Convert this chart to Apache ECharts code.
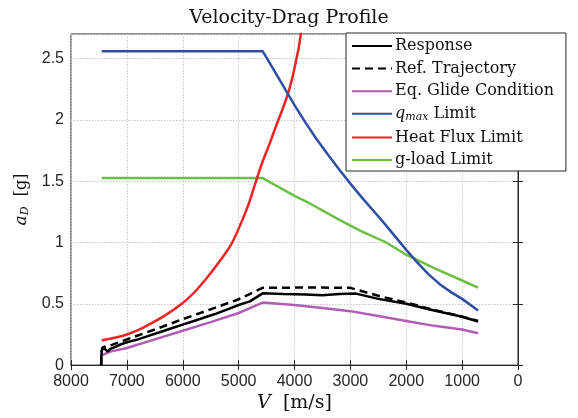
<!DOCTYPE html>
<html><head><meta charset="utf-8">
<script src="https://cdn.jsdelivr.net/npm/echarts@6/dist/echarts.min.js"></script>
<style>html,body{margin:0;padding:0;background:#fff}#c{width:578px;height:418px}</style>
</head><body><div id="c"></div>
<script>
// ---- data (V in m/s, drag acceleration in g) ----
const respV = [7460, 7458, 7450, 7420, 7380, 7340, 7300, 7200, 7100, 7000, 6800, 6600, 6400, 6200, 6000, 5800, 5600, 5400, 5200, 5000, 4800, 4570, 4200, 3800, 3500, 3200, 2900, 2500, 2000, 1600, 1300, 1000, 714];
const respA = [0.0, 0.06, 0.12, 0.145, 0.125, 0.11, 0.13, 0.15, 0.17, 0.186, 0.21, 0.24, 0.27, 0.30, 0.33, 0.36, 0.39, 0.42, 0.455, 0.49, 0.52, 0.585, 0.58, 0.575, 0.57, 0.58, 0.583, 0.54, 0.50, 0.456, 0.425, 0.394, 0.356];
const refV = [7460, 7455, 7440, 7400, 7300, 7000, 6500, 6000, 5500, 5000, 4570, 4000, 3500, 3000, 2500, 2000, 1500, 1000, 714];
const refA = [0.0, 0.08, 0.14, 0.15, 0.16, 0.21, 0.29, 0.375, 0.455, 0.537, 0.63, 0.632, 0.632, 0.63, 0.565, 0.51, 0.45, 0.395, 0.36];
const eqV = [7450, 7300, 7000, 6500, 6000, 5500, 5000, 4570, 4000, 3500, 3000, 2500, 2000, 1500, 1000, 714];
const eqA = [0.08, 0.11, 0.14, 0.21, 0.28, 0.35, 0.425, 0.51, 0.49, 0.465, 0.44, 0.40, 0.36, 0.32, 0.29, 0.26];
const qV = [7450, 4570, 4400, 4200, 4000, 3800, 3600, 3400, 3200, 3000, 2800, 2600, 2400, 2200, 2000, 1800, 1600, 1400, 1200, 1000, 714];
const qA = [2.56, 2.56, 2.43, 2.275, 2.12, 1.975, 1.84, 1.715, 1.595, 1.48, 1.37, 1.265, 1.16, 1.05, 0.94, 0.835, 0.74, 0.66, 0.595, 0.54, 0.445];
const hV = [7450, 7200, 7000, 6800, 6589, 6300, 6018, 5800, 5570, 5350, 5125, 4900, 4800, 4696, 4570, 4450, 4330, 4220, 4119, 4040, 3964, 3920, 3880];
const hA = [0.20, 0.225, 0.25, 0.285, 0.335, 0.41, 0.5, 0.59, 0.71, 0.84, 0.99, 1.22, 1.34, 1.49, 1.66, 1.80, 1.95, 2.08, 2.21, 2.34, 2.5, 2.6, 2.72];
const gV = [7450, 4570, 4000, 3732, 3196, 2800, 2362, 2000, 1500, 1000, 714];
const gA = [1.525, 1.525, 1.38, 1.32, 1.185, 1.09, 1.0, 0.9, 0.79, 0.69, 0.632];
const xTicks = [0, 1000, 2000, 3000, 4000, 5000, 6000, 7000, 8000];
const yTicks = [0, 0.5, 1, 1.5, 2, 2.5];
const names = ['Response', 'Ref. Trajectory', 'Eq. Glide Condition', 'qmax Limit', 'Heat Flux Limit', 'g-load Limit'];

const zip = (a, b) => a.map((v, i) => [v, b[i]]);
const serif = 'DejaVu Serif';
const sans = 'Liberation Sans';
function mk(name, V, A, color, type, smooth) {
  return {
    name, type: 'line', data: zip(V, A), symbol: 'none', clip: true,
    smooth: smooth || false,
    lineStyle: { color, width: 2.5, type: type || 'solid' },
    itemStyle: { color }, z: 3
  };
}
const grid = { left: 71, right: 60, top: 34, bottom: 50, show: true, borderColor: '#262626', borderWidth: 1 };
const split = { show: true, lineStyle: { color: '#c8c8c8', type: [1.5, 1.5], width: 1 } };
const chart = echarts.init(document.getElementById('c'));
chart.setOption({
  animation: false,
  title: { text: 'Velocity-Drag Profile', left: 'center', top: 4, textStyle: { fontFamily: serif, fontSize: 19, fontWeight: 'normal', color: '#111' } },
  grid,
  legend: {
    data: names, orient: 'vertical', left: 346, top: 33,
    padding: [5, 12, 3, 5], itemGap: 6.6, itemWidth: 40, itemHeight: 16,
    backgroundColor: '#fff', borderColor: '#262626', borderWidth: 1, borderRadius: 0,
    itemStyle: { opacity: 0, borderWidth: 0 },
    textStyle: { fontFamily: serif, fontSize: 16, color: '#111', padding: [0, 0, 0, -2],
      rich: { q: { fontFamily: serif, fontStyle: 'italic', fontSize: 16, color: '#111' }, s: { fontFamily: serif, fontStyle: 'italic', fontSize: 11, color: '#111', padding: [7, 0, 0, 0] }, t: { fontFamily: serif, fontSize: 16, color: '#111' } } },
    formatter: n => n === 'qmax Limit' ? '{q|q}{s|max}{t| Limit}' : n
  },
  xAxis: [{
    type: 'value', inverse: true, min: 0, max: 8000, interval: 1000,
    name: '{i|V}{r|  [m/s]}', nameLocation: 'middle', nameGap: 22,
    nameTextStyle: { rich: { i: { fontFamily: serif, fontStyle: 'italic', fontSize: 19, color: '#111' }, r: { fontFamily: serif, fontSize: 19, color: '#111' } } },
    axisLine: { show: true, lineStyle: { color: '#262626' } },
    axisTick: { inside: true, length: 5, lineStyle: { color: '#262626' } },
    axisLabel: { fontFamily: sans, fontSize: 16, color: '#262626', margin: 8, formatter: v => xTicks.includes(v) ? String(v) : '' },
    splitLine: split
  }, {
    type: 'value', inverse: true, min: 0, max: 8000, interval: 1000, position: 'top',
    axisLine: { show: true, lineStyle: { color: '#262626' } },
    axisTick: { inside: true, length: 5, lineStyle: { color: '#262626' } },
    axisLabel: { show: false }, splitLine: { show: false }
  }],
  yAxis: [{
    type: 'value', min: 0, max: 2.7, interval: 0.5,
    name: '{i|a}{s|D}{r|  [g]}', nameLocation: 'middle', nameGap: 37, nameRotate: 90,
    nameTextStyle: { rich: { i: { fontFamily: serif, fontStyle: 'italic', fontSize: 17, color: '#111' }, s: { fontFamily: serif, fontStyle: 'italic', fontSize: 11, color: '#111', padding: [8, 0, 0, 0] }, r: { fontFamily: serif, fontSize: 16, color: '#111' } } },
    axisLine: { show: true, lineStyle: { color: '#262626' } },
    axisTick: { inside: true, length: 5, lineStyle: { color: '#262626' } },
    axisLabel: { fontFamily: sans, fontSize: 16, color: '#262626', margin: 7, showMaxLabel: false, formatter: v => yTicks.includes(v) ? String(v) : '' },
    splitLine: split
  }, {
    type: 'value', min: 0, max: 2.7, interval: 0.5, position: 'right',
    axisLine: { show: true, lineStyle: { color: '#262626' } },
    axisTick: { inside: true, length: 5, lineStyle: { color: '#262626' } },
    axisLabel: { show: false }, splitLine: { show: false }
  }],
  series: [
    mk(names[5], gV, gA, '#6cbf45'),
    mk(names[4], hV, hA, '#ee2424', null, 0.3),
    mk(names[3], qV, qA, '#2d4ea2'),
    mk(names[2], eqV, eqA, '#b25db4'),
    mk(names[1], refV, refA, '#000', [8, 5]),
    mk(names[0], respV, respA, '#000')
  ]
});
</script></body></html>
